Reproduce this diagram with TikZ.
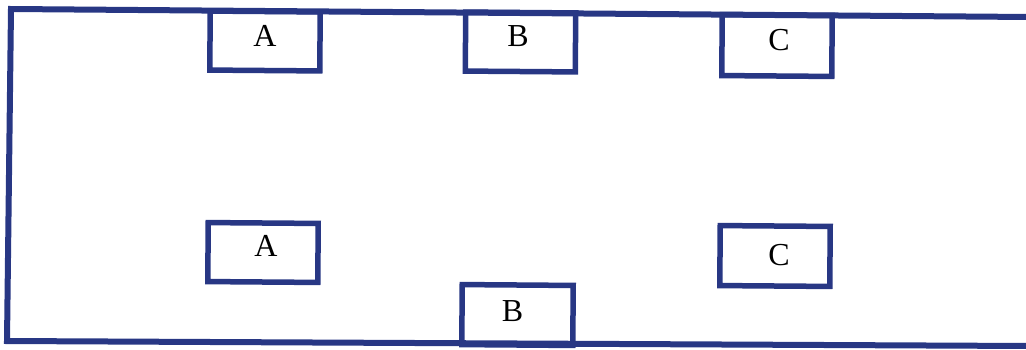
\documentclass[tikz,border=0pt]{standalone}
\usepackage{fontspec}
\setmainfont{Liberation Serif}
\definecolor{navy}{RGB}{40,55,132}
\begin{document}
\begin{tikzpicture}[x=1pt,y=-1pt,
  outline/.style={draw=navy,line width=6pt,line join=miter},
  box/.style={draw=navy,line width=5.5pt,rectangle,inner sep=0pt,outer sep=0pt,
    minimum width=110pt,minimum height=59pt,rotate=-0.45},
  lbl/.style={inner sep=0pt,font=\fontsize{32}{36}\selectfont}]
\useasboundingbox (0,0) rectangle (1026,349);
\coordinate (tr) at (1030,17);
\coordinate (tl) at (11,9);
\coordinate (bl) at (7,341);
\coordinate (br) at (1030,346);
\draw[outline] (tr) -- (tl) -- (bl) -- (br);
\node[box] (topA) at (265,41) {};
\node[box] (topB) at (520.5,42) {};
\node[box,minimum height=61pt] (topC) at (777,45.5) {};
\node[box] (botA) at (263,252.5) {};
\node[box,minimum width=111pt,minimum height=60pt] (botB) at (517.5,315) {};
\node[box,minimum height=60pt] (botC) at (775,256) {};
\node[lbl] (tA) at (265,36) {A};
\node[lbl] (tB) at (518,36) {B};
\node[lbl] (tC) at (779,40) {C};
\node[lbl] (bA) at (266,246) {A};
\node[lbl] (bB) at (512.5,311) {B};
\node[lbl] (bC) at (779,255) {C};
\end{tikzpicture}
\end{document}
